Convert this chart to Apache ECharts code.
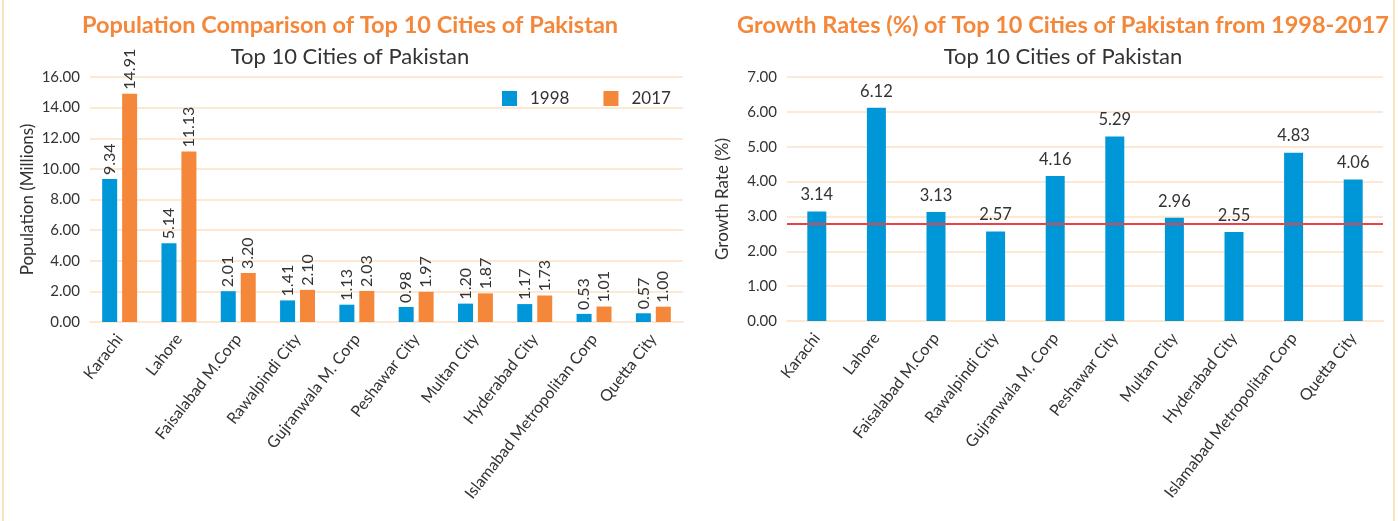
<!DOCTYPE html>
<html>
<head>
<meta charset="utf-8">
<script src="https://cdn.jsdelivr.net/npm/echarts@6/dist/echarts.min.js"></script>
<style>
  html, body { margin: 0; padding: 0; background: #fff; overflow: hidden; }
  #frame { position: absolute; left: 2px; top: -30px; width: 1389px; height: 600px;
           border: 2px solid #FCE0C2; border-radius: 10px; }
  #chart { position: absolute; left: 0; top: 0; width: 1398px; height: 521px; }
</style>
</head>
<body>
<div id="frame"></div>
<div id="chart"></div>
<script>
// cities on both charts
const cities = ['Karachi', 'Lahore', 'Faisalabad M.Corp', 'Rawalpindi City', 'Gujranwala M. Corp',
  'Peshawar City', 'Multan City', 'Hyderabad City', 'Islamabad Metropolitan Corp', 'Quetta City']
// population in millions
const pop1998 = [9.34, 5.14, 2.01, 1.41, 1.13, 0.98, 1.20, 1.17, 0.53, 0.57]
const pop2017 = [14.91, 11.13, 3.20, 2.10, 2.03, 1.97, 1.87, 1.73, 1.01, 1.00]
// growth rate (%) 1998-2017
const growth = [3.14, 6.12, 3.13, 2.57, 4.16, 5.29, 2.96, 2.55, 4.83, 4.06]
const growthRef = 2.78 // red reference line

const FONT = 'Lato'
const orange = '#F4873A'
const blue = '#0097D8'
const gridColor = '#FDE8D3'

const xAxisBase = (gridIndex) => ({
  type: 'category',
  gridIndex,
  data: cities,
  axisTick: { show: false },
  axisLine: { lineStyle: { color: gridColor, width: 2 } },
  axisLabel: { rotate: 52, color: '#333', fontSize: 16, fontFamily: FONT, margin: 14, interval: 0 },
})

const yAxisBase = (gridIndex, max, name, nameGap) => ({
  type: 'value',
  gridIndex,
  min: 0,
  max,
  interval: gridIndex === 0 ? 2 : 1,
  name,
  nameLocation: 'middle',
  nameGap,
  nameTextStyle: { color: '#333', fontSize: 17, fontFamily: FONT },
  axisLabel: { color: '#333', fontSize: 15, fontFamily: FONT, formatter: (v) => v.toFixed(2), margin: 10 },
  splitLine: { lineStyle: { color: gridColor, width: 2 } },
  axisLine: { show: false },
})

const option = {
  animation: false,
  textStyle: { fontFamily: FONT },
  title: [
    { text: 'Population Comparison of Top 10 Cities of Pakistan', left: 345, top: 8, textAlign: 'center',
      textStyle: { color: orange, fontSize: 23.5, fontWeight: 'bold', fontFamily: FONT } },
    { text: 'Top 10 Cities of Pakistan', left: 345, top: 41, textAlign: 'center',
      textStyle: { color: '#333', fontSize: 22, fontWeight: 'normal', fontFamily: FONT } },
    { text: 'Growth Rates (%) of Top 10 Cities of Pakistan from 1998-2017', left: 1058, top: 8, textAlign: 'center',
      textStyle: { color: orange, fontSize: 23.5, fontWeight: 'bold', fontFamily: FONT } },
    { text: 'Top 10 Cities of Pakistan', left: 1058, top: 41, textAlign: 'center',
      textStyle: { color: '#333', fontSize: 22, fontWeight: 'normal', fontFamily: FONT } },
  ],
  legend: {
    data: ['1998', '2017'],
    left: 497, top: 85,
    icon: 'rect', itemWidth: 15, itemHeight: 15, itemGap: 34,
    textStyle: { color: '#333', fontSize: 17, fontFamily: FONT, padding: [0, 0, 0, 8] },
  },
  grid: [
    { left: 90, right: 715, top: 77, bottom: 199 },
    { left: 787, right: 15, top: 77, bottom: 200 },
  ],
  xAxis: [xAxisBase(0), xAxisBase(1)],
  yAxis: [
    yAxisBase(0, 16, 'Population (Millions)', 54),
    yAxisBase(1, 7, 'Growth Rate (%)', 56),
  ],
  series: [
    {
      name: '1998', type: 'bar', xAxisIndex: 0, yAxisIndex: 0, data: pop1998,
      barWidth: 15, barGap: '33%',
      itemStyle: { color: blue },
      label: { show: true, position: 'top', rotate: 90, align: 'left', verticalAlign: 'middle', distance: 4,
        color: '#333', fontSize: 16, fontFamily: FONT, formatter: (p) => p.value.toFixed(2) },
    },
    {
      name: '2017', type: 'bar', xAxisIndex: 0, yAxisIndex: 0, data: pop2017,
      barWidth: 15,
      itemStyle: { color: orange },
      label: { show: true, position: 'top', rotate: 90, align: 'left', verticalAlign: 'middle', distance: 4,
        color: '#333', fontSize: 16, fontFamily: FONT, formatter: (p) => p.value.toFixed(2) },
    },
    {
      name: 'Growth', type: 'bar', xAxisIndex: 1, yAxisIndex: 1, data: growth,
      barWidth: 19,
      itemStyle: { color: blue },
      label: { show: true, position: 'top', distance: 8, color: '#333', fontSize: 16.5, fontFamily: FONT,
        formatter: (p) => p.value.toFixed(2) },
      markLine: {
        silent: true, symbol: 'none',
        label: { show: false },
        lineStyle: { color: '#E8414A', width: 2, type: 'solid' },
        data: [{ yAxis: growthRef }],
      },
    },
  ],
}

const chart = echarts.init(document.getElementById('chart'))
chart.setOption(option)
</script>
</body>
</html>
